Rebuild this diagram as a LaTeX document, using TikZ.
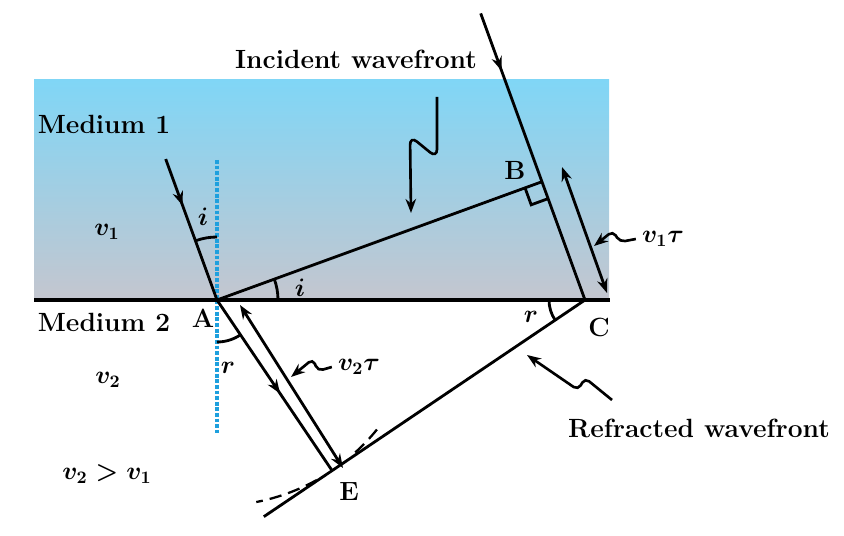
\documentclass[tikz,border=0pt]{standalone}
\usepackage{amsmath}
\usepackage{amssymb}
\usetikzlibrary{calc,arrows.meta,decorations.markings}

\definecolor{skytop}{RGB}{128,214,246}
\definecolor{skybot}{RGB}{196,198,207}
\definecolor{normalblue}{RGB}{30,160,222}

\tikzset{
  lbl/.style={font=\fontsize{15}{18}\selectfont\bfseries},
  sym/.style={font=\fontsize{14}{17}\selectfont\boldmath},
  ray/.style={line width=1.6pt},
  squig/.style={line width=1.5pt, rounded corners=3pt, ->},
  midarrow/.style={postaction={decorate},
    decoration={markings, mark=at position #1 with {\arrow{>}}}},
}

\begin{document}
\begin{tikzpicture}[x=0.02cm, y=-0.02cm, >={Stealth[length=8pt,width=6pt]}]
        \useasboundingbox (0,0) rectangle (844,536);
        % medium 1
        \shade[top color=skytop, bottom color=skybot] (34,80) rectangle (609,300);
        \coordinate (L) at (34,300);
        \coordinate (R) at (610,300);
        \coordinate (n1) at (217,160);
        \coordinate (n2) at (217,433);
        \draw[normalblue, line width=2.2pt, densely dotted] (n1) -- (n2);
        \draw[line width=2.6pt] (L) -- (R);
        % points of the construction
        \coordinate (A) at (217,300);
        \coordinate (C) at (585,300);
        \coordinate (B) at ($(A)+(-20:345.8)$);
        \coordinate (E) at ($(A)+(56:205.8)$);
        \coordinate (P) at ($(A)+(250:150)$);
        \coordinate (Q) at ($(C)+(250:305)$);
        \coordinate (F) at ($(C)!1.27!(E)$);
        % rays and wavefronts
        \draw[ray, midarrow=0.33] (P) -- (A);
        \draw[ray, midarrow=0.2] (Q) -- (C);
        \draw[ray] (A) -- (B);
        \draw[ray, midarrow=0.55] (A) -- (E);
        \draw[ray] (C) -- (F);
        \draw[ray] ($(B)+(160:18)$) -- ++(70:18) -- ++(-20:18);
        % secondary wavelet
        \foreach \a/\b in {39/48, 61/79}
        \draw[dash pattern=on 7pt off 4pt, line width=1.3pt] ($(A)+(\a:205.8)$) arc[start angle=\a, end angle=\b, radius=205.8];
        % angles
        \draw[ray] ($(A)+(-90:63)$) arc[start angle=-90, end angle=-110, radius=63];
        \draw[ray] ($(A)+(0:61)$) arc[start angle=0, end angle=-20, radius=61];
        \draw[ray] ($(A)+(90:42)$) arc[start angle=90, end angle=56, radius=42];
        \draw[ray] ($(C)+(180:36)$) arc[start angle=180, end angle=146, radius=36];
        % distances
        \coordinate (s1) at (562,167);
        \coordinate (s2) at (607,293);
        \coordinate (t1) at (240,305);
        \coordinate (t2) at (343,468);
        \draw[ray, <->] (s1) -- (s2);
        \draw[ray, <->] (t1) -- (t2);
        % labels
        \node[lbl] (inc) at (356,59) {Incident wavefront};
        \node[lbl] (m1) at (104,124) {Medium 1};
        \node[lbl] (m2) at (104,322) {Medium 2};
        \node[lbl] (refr) at (699,428) {Refracted wavefront};
        \node[sym] (v1) at (107,232) {$v_1$};
        \node[sym] (v2) at (108,380) {$v_2$};
        \node[sym] (vv) at (107,474) {$v_2 > v_1$};
        \node[sym] (vt1) at (663,239) {$v_1\tau$};
        \node[sym] (vt2) at (359,367) {$v_2\tau$};
        \node[lbl] (lA) at (203,318) {A};
        \node[lbl] (lB) at (515,170) {B};
        \node[lbl] (lC) at (599,327) {C};
        \node[lbl] (lE) at (349,492) {E};
        \node[sym] (i1) at (203,217) {$i$};
        \node[sym] (i2) at (300,288) {$i$};
        \node[sym] (r1) at (228,368) {$r$};
        \node[sym] (r2) at (531,317) {$r$};
        % pointers
        \draw[squig, rounded corners=5pt] (437,97) -- (437,158) -- (410,136) -- (411,213);
        \draw[squig] (vt1.west) -- ++(-16,3) -- ++(-7,-11) -- (594,246);
        \draw[squig] (vt2.west) -- ++(-14,4) -- ++(-5,-12) -- (291,377);
        \draw[squig] (612,400) -- (585,378) -- (578,390) -- (527,355);
\end{tikzpicture}
\end{document}
